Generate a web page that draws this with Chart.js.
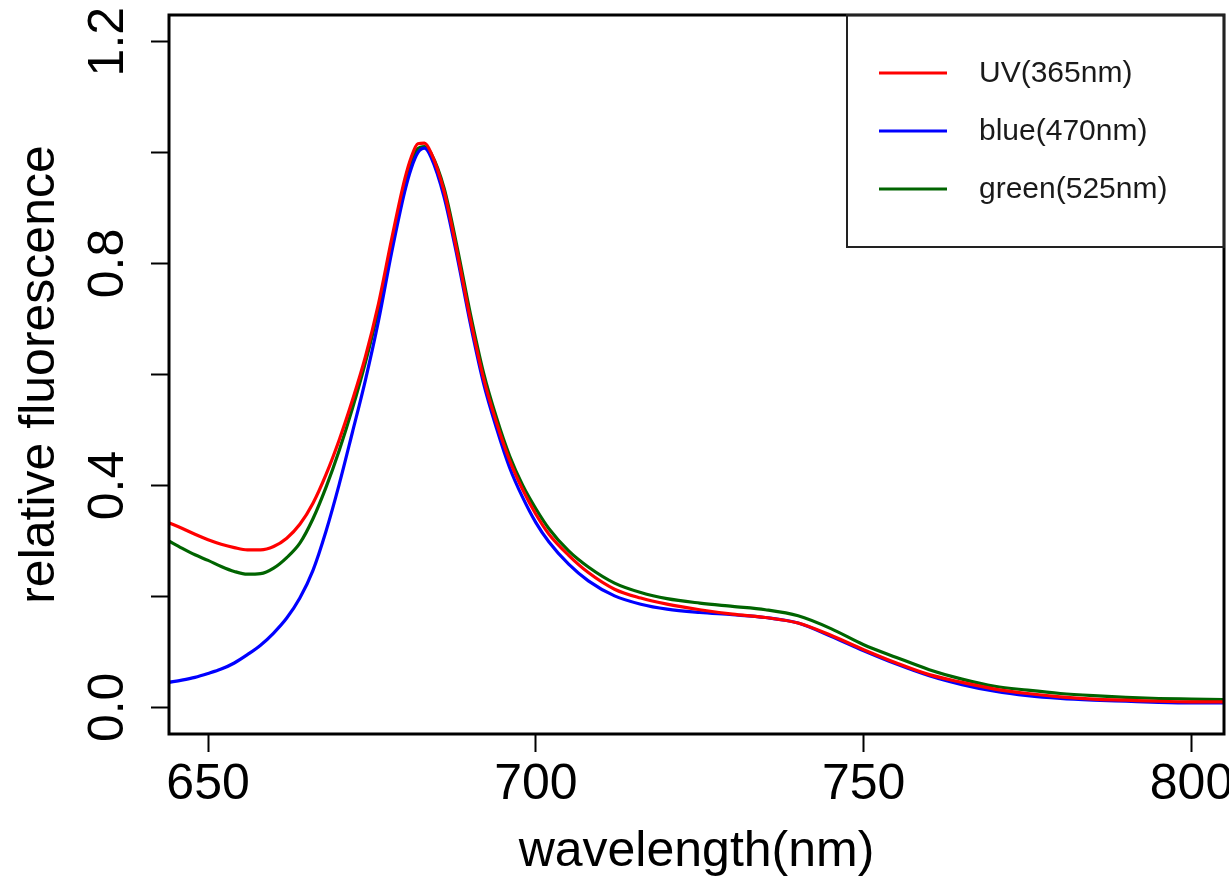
<!DOCTYPE html>
<html>
<head>
<meta charset="utf-8">
<script src="https://cdn.jsdelivr.net/npm/chart.js@4/dist/chart.umd.min.js"></script>
<style>
  html, body { margin: 0; padding: 0; background: #fff; }
  #wrap { width: 1229px; height: 879px; }
</style>
</head>
<body>
<div id="wrap"><canvas id="c" width="1229" height="879"></canvas></div>
<script>
const wavelengths = [644, 646, 648, 650, 652, 654, 656, 658, 660, 662,
  664, 666, 668, 670, 672, 674, 676, 678, 680, 681,
  682, 683, 684, 686, 688, 690, 692, 694, 696, 698,
  700, 702, 705, 708, 712, 716, 720, 725, 730, 735,
  740, 745, 750, 755, 760, 765, 770, 775, 780, 785,
  790, 795, 800, 805];

const uv365 = [0.333, 0.323, 0.312, 0.302, 0.294, 0.288, 0.284, 0.284, 0.290, 0.305,
  0.330, 0.368, 0.420, 0.482, 0.553, 0.632, 0.728, 0.844, 0.952, 0.992,
  1.016, 1.017, 1.000, 0.930, 0.820, 0.700, 0.594, 0.513, 0.445, 0.392,
  0.348, 0.312, 0.274, 0.243, 0.213, 0.197, 0.186, 0.176, 0.168, 0.162,
  0.152, 0.130, 0.104, 0.080, 0.059, 0.045, 0.033, 0.025, 0.019, 0.015,
  0.013, 0.011, 0.010, 0.010];

const blue470 = [0.045, 0.049, 0.054, 0.061, 0.069, 0.080, 0.095, 0.112, 0.134, 0.161,
  0.197, 0.247, 0.318, 0.402, 0.495, 0.590, 0.697, 0.820, 0.930, 0.972,
  1.000, 1.008, 0.992, 0.920, 0.812, 0.692, 0.585, 0.503, 0.432, 0.378,
  0.333, 0.298, 0.258, 0.228, 0.201, 0.186, 0.177, 0.171, 0.167, 0.162,
  0.152, 0.128, 0.102, 0.078, 0.057, 0.041, 0.029, 0.021, 0.016, 0.013,
  0.011, 0.009, 0.008, 0.008];

const green525 = [0.300, 0.287, 0.275, 0.265, 0.254, 0.245, 0.240, 0.241, 0.251, 0.270,
  0.296, 0.340, 0.397, 0.463, 0.538, 0.622, 0.718, 0.832, 0.943, 0.984,
  1.007, 1.011, 0.999, 0.936, 0.829, 0.710, 0.604, 0.522, 0.453, 0.400,
  0.358, 0.322, 0.282, 0.253, 0.224, 0.207, 0.196, 0.188, 0.182, 0.176,
  0.165, 0.142, 0.113, 0.090, 0.068, 0.051, 0.038, 0.031, 0.025, 0.021,
  0.018, 0.016, 0.015, 0.014];

const seriesNames = ['UV(365nm)', 'blue(470nm)', 'green(525nm)'];
const seriesColors = ['#ff0000', '#0000ff', '#006400'];
const xTickValues = [650, 700, 750, 800];
const yTickValues = [0, 0.2, 0.4, 0.6, 0.8, 1.0, 1.2];
const yTickLabels = ['0.0', '', '0.4', '', '0.8', '', '1.2'];
const xTitle = 'wavelength(nm)';
const yTitle = 'relative fluorescence';

const FONT = '"Liberation Sans", Arial, Helvetica, sans-serif';

function toPoints(vals) { return wavelengths.map((w, i) => ({ x: w, y: vals[i] })); }

const seriesValues = [uv365, blue470, green525];
const datasets = seriesValues.map((vals, i) => ({
  label: seriesNames[i],
  data: toPoints(vals),
  borderColor: seriesColors[i],
  backgroundColor: seriesColors[i],
  borderWidth: 3.2,
  pointRadius: 0,
  fill: false,
  cubicInterpolationMode: 'monotone'
}));

const framePlugin = {
  id: 'frame',
  afterDatasetsDraw(chart) {
    const { ctx, chartArea: a } = chart;
    ctx.save();
    ctx.strokeStyle = '#000';
    ctx.lineWidth = 3;
    ctx.strokeRect(a.left, a.top, a.right - a.left, a.bottom - a.top);
    ctx.restore();
  }
};

const boxLegendPlugin = {
  id: 'boxLegend',
  afterDraw(chart) {
    const { ctx, chartArea: a } = chart;
    const w = 377, h = 232;
    const left = a.right - w, top = a.top;
    ctx.save();
    ctx.strokeStyle = '#222';
    ctx.lineWidth = 2;
    ctx.strokeRect(left, top, w, h);
    ctx.font = '30px ' + FONT;
    ctx.textBaseline = 'middle';
    ctx.textAlign = 'left';
    chart.data.datasets.forEach((ds, i) => {
      const y = top + 58 + i * 58;
      ctx.strokeStyle = ds.borderColor;
      ctx.lineWidth = 3;
      ctx.beginPath();
      ctx.moveTo(left + 32, y);
      ctx.lineTo(left + 100, y);
      ctx.stroke();
      ctx.fillStyle = '#1a1a1a';
      ctx.fillText(ds.label, left + 132, y + 1);
    });
    ctx.restore();
  }
};

new Chart(document.getElementById('c'), {
  type: 'line',
  data: { datasets },
  options: {
    responsive: false,
    animation: false,
    devicePixelRatio: 1,
    layout: { padding: { top: 15, right: 5, left: 0, bottom: 0 } },
    plugins: { legend: { display: false }, tooltip: { enabled: false } },
    scales: {
      x: {
        type: 'linear',
        min: 644.04,
        max: 804.96,
        afterBuildTicks: s => { s.ticks = xTickValues.map(v => ({ value: v })); },
        ticks: {
          font: { family: FONT, size: 50 },
          color: '#000',
          padding: 3,
          maxRotation: 0,
          autoSkip: false,
          callback: v => String(v)
        },
        grid: { drawOnChartArea: false, drawTicks: true, tickLength: 18, tickWidth: 2, tickColor: '#000' },
        border: { display: false },
        title: {
          display: true, text: xTitle, color: '#000',
          font: { family: FONT, size: 50, lineHeight: 1.08 },
          padding: { top: 0, bottom: 0 }
        },
        afterFit: s => { s.height = 145; s.paddingLeft = 0; s.paddingRight = 0; }
      },
      y: {
        type: 'linear',
        min: -0.048,
        max: 1.248,
        afterBuildTicks: s => { s.ticks = yTickValues.map(v => ({ value: v })); },
        ticks: {
          font: { family: FONT, size: 50 },
          color: '#000',
          minRotation: 90,
          maxRotation: 90,
          crossAlign: 'center',
          padding: 7,
          autoSkip: false,
          callback: (v, i) => yTickLabels[i]
        },
        grid: { drawOnChartArea: false, drawTicks: true, tickLength: 18, tickWidth: 2, tickColor: '#000' },
        border: { display: false },
        title: {
          display: true, text: yTitle, color: '#000',
          font: { family: FONT, size: 50 },
          padding: { top: 10, bottom: 0 }
        },
        afterFit: s => { s.width = 169; s.paddingTop = 0; s.paddingBottom = 0; }
      }
    }
  },
  plugins: [framePlugin, boxLegendPlugin]
});
</script>
</body>
</html>
